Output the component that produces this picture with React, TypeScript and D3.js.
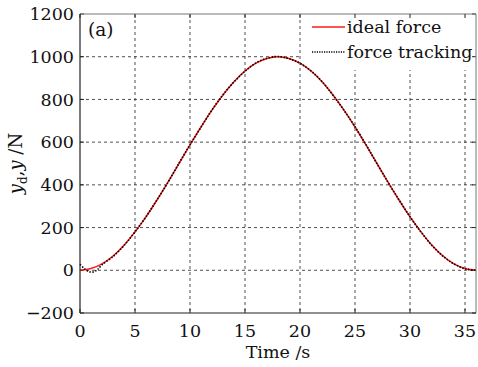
import React from 'react';
import * as d3 from 'd3';

const WIDTH = 478;
const HEIGHT = 367;
const margin = { l: 80, r: 2, t: 14, b: 54 };

// time (s) and forces (N)
const times = [0, 1, 2, 3, 4, 5, 6, 7, 8, 9, 10, 11, 12, 13, 14, 15, 16, 17, 18, 19, 20, 21, 22, 23, 24, 25, 26, 27, 28, 29, 30, 31, 32, 33, 34, 35, 36];
const idealForce = [0, 8, 30, 67, 117, 180, 250, 329, 413, 500, 587, 671, 750, 821, 883, 933, 970, 992, 1000, 992, 970, 933, 883, 821, 750, 671, 587, 500, 413, 329, 250, 180, 117, 67, 30, 8, 0];
const trackTimes = [0, 0.4, 0.8, 1.2, 1.6, 2, 3, 4, 5, 6, 7, 8, 9, 10, 11, 12, 13, 14, 15, 16, 17, 18, 19, 20, 21, 22, 23, 24, 25, 26, 27, 28, 29, 30, 31, 32, 33, 34, 35, 36];
const trackForce = [28, 8, -6, -8, 4, 26, 64, 116, 180, 251, 330, 412, 501, 588, 670, 751, 822, 882, 932, 971, 993, 1001, 991, 969, 934, 884, 820, 749, 672, 588, 499, 412, 330, 251, 179, 116, 66, 30, 7, 0];

const xTicks = [0, 5, 10, 15, 20, 25, 30, 35];
const yTicks = [-200, 0, 200, 400, 600, 800, 1000, 1200];

const FONT = '"DejaVu Serif", "Liberation Serif", serif';
const FS = 17.5;

const App = () => {
  const w = WIDTH - margin.l - margin.r;
  const h = HEIGHT - margin.t - margin.b;
  const x = d3.scaleLinear().domain([0, 36]).range([0, w]);
  const y = d3.scaleLinear().domain([-200, 1200]).range([h, 0]);

  const line = d3
    .line<number>()
    .x((d, i) => x(times[i]))
    .y((d) => y(d))
    .curve(d3.curveCatmullRom);
  const tLine = d3
    .line<number>()
    .x((d, i) => x(trackTimes[i]))
    .y((d) => y(d))
    .curve(d3.curveCatmullRom);

  return (
    <svg
      width={WIDTH}
      height={HEIGHT}
      style={{ position: 'absolute', left: 0, top: 0, background: '#fff' }}
      fontFamily={FONT}
    >
      <rect width={WIDTH} height={HEIGHT} fill="#fff" />
      <g transform={`translate(${margin.l}, ${margin.t})`}>
        {/* grid */}
        {xTicks.filter((t) => t > 0).map((t) => (
          <line key={'gx' + t} x1={x(t)} x2={x(t)} y1={0} y2={h} stroke="#222" strokeWidth={0.8} strokeDasharray="3,3" />
        ))}
        {yTicks.filter((t) => t > -200 && t < 1200).map((t) => (
          <line key={'gy' + t} x1={0} x2={w} y1={y(t)} y2={y(t)} stroke="#222" strokeWidth={0.8} strokeDasharray="3,3" />
        ))}
        {/* legend background */}
        <rect x={222} y={1} width={w - 222} height={55} fill="#fff" />
        {/* ticks */}
        {xTicks.map((t) => (
          <g key={'tx' + t}>
            <line x1={x(t)} x2={x(t)} y1={h} y2={h - 4} stroke="#222" />
            <line x1={x(t)} x2={x(t)} y1={0} y2={4} stroke="#222" />
            <text x={x(t)} y={h + 24} textAnchor="middle" fontSize={FS} fill="#111">{t}</text>
          </g>
        ))}
        {yTicks.map((t) => (
          <g key={'ty' + t}>
            <line x1={0} x2={4} y1={y(t)} y2={y(t)} stroke="#222" />
            <line x1={w} x2={w - 4} y1={y(t)} y2={y(t)} stroke="#222" />
            <text x={-6} y={y(t)} dy="0.35em" textAnchor="end" fontSize={FS} fill="#111">
              {t < 0 ? '\u2212' + Math.abs(t) : t}
            </text>
          </g>
        ))}
        {/* series */}
        <path d={line(idealForce) || ''} fill="none" stroke="#ff1a1a" strokeWidth={1.5} />
        <path d={tLine(trackForce) || ''} fill="none" stroke="#000" strokeWidth={1.6} strokeDasharray="1.5,1.5" />
        {/* frame */}
        <line x1={0} x2={w} y1={0} y2={0} stroke="#777" />
        <line x1={w} x2={w} y1={0} y2={h} stroke="#777" />
        <line x1={0} x2={0} y1={0} y2={h} stroke="#222" strokeWidth={1.2} />
        <line x1={0} x2={w} y1={h} y2={h} stroke="#222" strokeWidth={1.2} />
        {/* legend */}
        <line x1={232} x2={265} y1={13} y2={13} stroke="#ff1a1a" strokeWidth={1.5} />
        <text x={267} y={13} dy="0.35em" fontSize={FS} fill="#111">ideal force</text>
        <line x1={232} x2={265} y1={38} y2={38} stroke="#000" strokeWidth={1.4} strokeDasharray="1.2,1.2" />
        <text x={267} y={38} dy="0.35em" fontSize={FS} fill="#111">force tracking</text>
        <text x={8} y={16} dy="0.35em" fontSize={18.5} fill="#111">(a)</text>
        {/* axis labels */}
        <text x={w / 2} y={h + 45} textAnchor="middle" fontSize={FS} fill="#111">Time /s</text>
        <text transform={`translate(${-58}, ${h / 2}) rotate(-90)`} textAnchor="middle" fontSize={18} fill="#111">
          <tspan fontStyle="italic">y</tspan>
          <tspan fontSize={12} dy={5}>d</tspan>
          <tspan dy={-5}>,</tspan>
          <tspan fontStyle="italic">y</tspan>
          <tspan> /N</tspan>
        </text>
      </g>
    </svg>
  );
};

export default App;
